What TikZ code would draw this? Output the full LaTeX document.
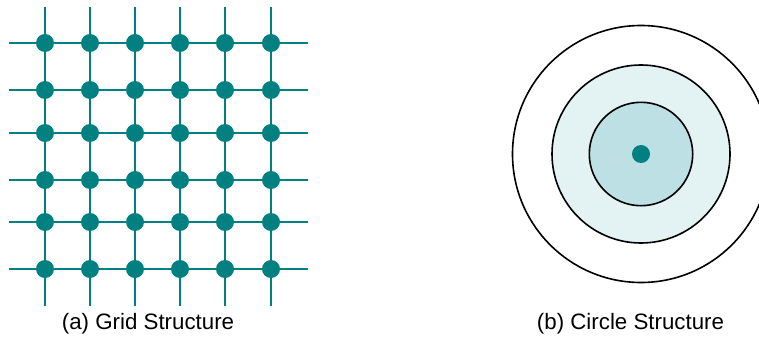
\documentclass[tikz,border=0pt]{standalone}
\usepackage{fontspec}
\setmainfont{Liberation Sans}
\definecolor{teal1}{RGB}{0,128,128}
\definecolor{ringfill}{RGB}{227,243,243}
\definecolor{corefill}{RGB}{188,224,227}
\begin{document}
\begin{tikzpicture}[x=1pt,y=-1pt,
  gridline/.style={draw=teal1,line width=1.8pt},
  dot/.style={circle,fill=teal1,inner sep=0pt,minimum size=18pt},
  ring/.style={draw=black,line width=1.6pt},
  caption/.style={font=\fontsize{22.3}{25}\selectfont,inner sep=0pt,anchor=base}]
\useasboundingbox (0,0) rectangle (759,339);
\clip (0,0) rectangle (759,339);
% grid
\def\xs{{45,90,135,180,225,271}}
\def\ys{{43,90,133,180,222,269}}
\foreach \i in {0,...,5}{
  \pgfmathsetmacro{\xx}{\xs[\i]}
  \pgfmathsetmacro{\yy}{\ys[\i]}
  \coordinate (vt\i) at (\xx,7);
  \coordinate (vb\i) at (\xx,306);
  \coordinate (hl\i) at (9,\yy);
  \coordinate (hr\i) at (308,\yy);
  \draw[gridline] (vt\i) -- (vb\i);
  \draw[gridline] (hl\i) -- (hr\i);
}
\foreach \i in {0,...,5}{
  \foreach \j in {0,...,5}{
    \pgfmathsetmacro{\xx}{\xs[\i]}
    \pgfmathsetmacro{\yy}{\ys[\j]}
    \node[dot] (g\i\j) at (\xx,\yy) {};
  }
}
\node[caption] (capa) at (148,329.5) {(a) Grid Structure};
% circles
\coordinate (c) at (641,154);
\draw[ring] (c) circle[radius=128.5];
\draw[ring,fill=ringfill] (c) circle[radius=89];
\draw[ring,fill=corefill] (c) circle[radius=51.7];
\node[dot] (center) at (c) {};
\node[caption] (capb) at (630.5,329.5) {(b) Circle Structure};
\end{tikzpicture}
\end{document}
